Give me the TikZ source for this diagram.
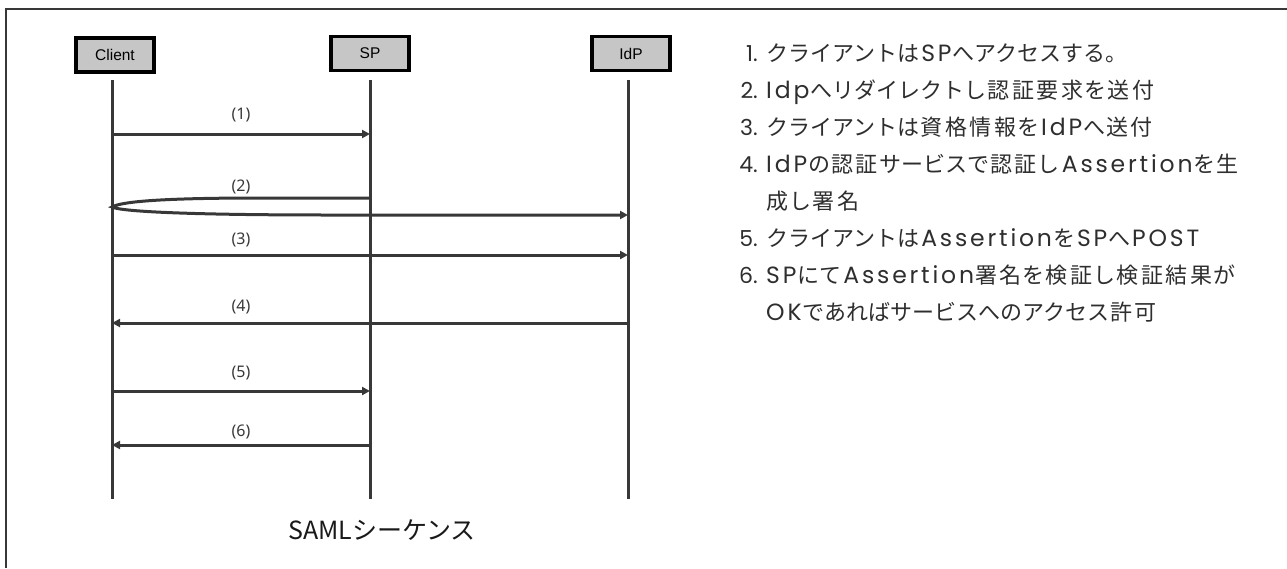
\documentclass[tikz,border=0pt]{standalone}
\usepackage{fontspec}
\usetikzlibrary{arrows.meta}
\newfontfamily\jpfont{Noto Sans CJK JP}
\newfontfamily\jplist{Noto Sans CJK JP}
\newfontfamily\latlist[LetterSpace=12]{Poppins}
\newfontfamily\numlist{Poppins}
\newfontfamily\boxfont{Liberation Sans}
\newfontfamily\labfont{Noto Sans}
\definecolor{lineg}{HTML}{383838}
\definecolor{boxg}{HTML}{C6C6C6}
\definecolor{txtg}{HTML}{2E2E2E}
% inter-character spacing for the Japanese list
\newXeTeXintercharclass\kanacls
\newXeTeXintercharclass\kanjicls
\newcount\cjkc
\cjkc="3001
\loop \XeTeXcharclass\cjkc=\kanacls \advance\cjkc by 1 \ifnum\cjkc<"3100 \repeat
\cjkc="4E00
\loop \XeTeXcharclass\cjkc=\kanjicls \advance\cjkc by 1 \ifnum\cjkc<"A000 \repeat
\XeTeXinterchartoks\kanjicls\kanjicls = {\hskip 2.5pt\relax}
\XeTeXinterchartoks\kanjicls\kanacls = {\hskip 1.2pt\relax}
\XeTeXinterchartoks\kanacls\kanjicls = {\hskip 1.2pt\relax}
\newcommand{\listfont}{\jplist\fontsize{22}{22}\selectfont\XeTeXinterchartokenstate=1 }
\newcommand{\enw}[1]{{\latlist\fontsize{23.5}{22}\selectfont #1}}
\tikzset{
  actor/.style={draw=black, fill=boxg, line width=3.2pt, minimum width=78pt, minimum height=34pt, inner sep=0pt, font=\boxfont\fontsize{15.5}{15.5}\selectfont},
  life/.style={draw=lineg, line width=3pt},
  msg/.style={draw=lineg, line width=3pt, -{Triangle[length=8pt,width=8pt]}},
  lab/.style={font=\labfont\fontsize{16}{16}\selectfont, text=lineg, inner sep=0pt},
  num/.style={anchor=base east, inner sep=0pt, font=\numlist\fontsize{22}{22}\selectfont, text=txtg},
  itemtxt/.style={anchor=base west, inner sep=0pt, font=\listfont, text=txtg},
  frameline/.style={draw=lineg, line width=2.2pt}
}
\begin{document}
\begin{tikzpicture}[x=1pt,y=-1pt]
\useasboundingbox (0,0) rectangle (1287,568);
% frame (top and left only)
\coordinate (fl) at (6,568);
\coordinate (ftl) at (6,9);
\coordinate (ftr) at (1287,9);
\draw[frameline] (fl) -- (ftl) -- (ftr);
% actors
\node[actor] (client) at (115,55) {Client};
\node[actor] (sp) at (370,53.5) {SP};
\node[actor] (idp) at (631,53.5) {IdP};
% lifelines
\coordinate (ct) at (112,80); \coordinate (cb) at (112,499);
\coordinate (st) at (370,80); \coordinate (sb) at (370,499);
\coordinate (it) at (628,80); \coordinate (ib) at (628,499);
\draw[life] (ct) -- (cb);
\draw[life] (st) -- (sb);
\draw[life] (it) -- (ib);
% message points
\coordinate (c1) at (112,134); \coordinate (s1) at (370,134);
\coordinate (s2) at (370,198); \coordinate (c2) at (112,207); \coordinate (i2) at (628,215);
\coordinate (c3) at (112,255); \coordinate (i3) at (628,255);
\coordinate (i4) at (628,323); \coordinate (c4) at (112,323);
\coordinate (c5) at (112,391); \coordinate (s5) at (370,391);
\coordinate (s6) at (370,445); \coordinate (c6) at (112,445);
% messages
\draw[msg] (c1) -- (s1);
\draw[msg] (s2) -- (260,198) .. controls (170,198) and (122,201) .. (c2)
                .. controls (122,212) and (200,215) .. (330,215) -- (i2);
\draw[msg] (c3) -- (i3);
\draw[msg] (i4) -- (c4);
\draw[msg] (c5) -- (s5);
\draw[msg] (s6) -- (c6);
% labels
\node[lab] (l1) at (241,115) {(1)};
\node[lab] (l2) at (241,187) {(2)};
\node[lab] (l3) at (241,240) {(3)};
\node[lab] (l4) at (241,307) {(4)};
\node[lab] (l5) at (241,373) {(5)};
\node[lab] (l6) at (241,432) {(6)};
% caption
\node[font=\jpfont\fontsize{25}{25}\selectfont, text=black!90, inner sep=0pt] (cap) at (382,530) {SAMLシーケンス};
% list
\node[num] (n1) at (758,61) {1.};
\node[itemtxt] (t1) at (766,61) {クライアントは\hspace{2pt}\enw{SP}\hspace{1pt}へアクセスする。};
\node[num] (n2) at (758,98) {2.};
\node[itemtxt] (t2) at (766,98) {\enw{Idp}\hspace{1pt}へリダイレクトし認証要求を送付};
\node[num] (n3) at (758,135) {3.};
\node[itemtxt] (t3) at (766,135) {クライアントは資格情報を\hspace{2pt}\enw{IdP}\hspace{1pt}へ送付};
\node[num] (n4) at (758,172) {4.};
\node[itemtxt] (t4) at (766,172) {\enw{IdP}\hspace{1pt}の認証サービスで認証し\hspace{2pt}\enw{Assertion}\hspace{1pt}を生};
\node[itemtxt] (t4b) at (766,209) {成し署名};
\node[num] (n5) at (758,246) {5.};
\node[itemtxt] (t5) at (766,246) {クライアントは\hspace{2pt}\enw{Assertion}\hspace{1pt}を\hspace{2pt}\enw{SP}\hspace{1pt}へ\hspace{2pt}\enw{POST}};
\node[num] (n6) at (758,283) {6.};
\node[itemtxt] (t6) at (766,283) {\enw{SP}\hspace{1pt}にて\hspace{2pt}\enw{Assertion}\hspace{1pt}署名を検証し検証結果が};
\node[itemtxt] (t6b) at (766,320) {\enw{OK}\hspace{1pt}であればサービスへのアクセス許可};
\end{tikzpicture}
\end{document}
